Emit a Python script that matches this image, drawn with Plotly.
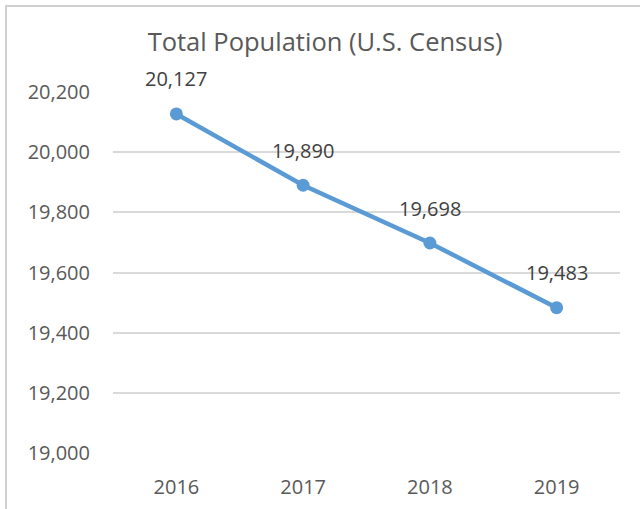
import plotly.graph_objects as go

years = ["2016", "2017", "2018", "2019"]
population = [20127, 19890, 19698, 19483]
y_ticks = [19000, 19200, 19400, 19600, 19800, 20000, 20200]
y_tick_labels = ["19,000", "19,200", "19,400", "19,600", "19,800", "20,000", "20,200"]

FONT = "Open Sans, Noto Sans, sans-serif"
LINE_COLOR = "#5B9BD5"
TEXT_COLOR = "#595959"
BORDER = "#D0D0D0"

fig = go.Figure()
fig.add_trace(go.Scatter(
    x=years, y=population, mode="lines+markers",
    line=dict(color=LINE_COLOR, width=4.5),
    marker=dict(color=LINE_COLOR, size=13),
    hoverinfo="skip", showlegend=False,
))

for i, v in enumerate(population):
    fig.add_annotation(
        x=i, y=v, text=f"{v:,}", showarrow=False,
        yshift=35, font=dict(family=FONT, size=20, color="#404040"),
    )

fig.update_layout(
    width=640, height=509,
    margin=dict(l=113, r=20, t=92, b=56, autoexpand=False),
    paper_bgcolor="white", plot_bgcolor="white",
    title=dict(text="Total Population (U.S. Census)", x=0.508, xanchor="center",
               y=1 - 42 / 509, yanchor="middle",
               font=dict(family=FONT, size=25.5, color=TEXT_COLOR)),
    xaxis=dict(type="category", range=[-0.5, 3.5], showgrid=False, zeroline=False,
               showline=False, ticks="", automargin=False,
               tickfont=dict(family=FONT, size=20, color=TEXT_COLOR),
               ticklabelstandoff=20),
    yaxis=dict(range=[19000, 20200], tickvals=y_ticks, ticktext=y_tick_labels,
               showgrid=True, gridcolor="#D9D9D9", gridwidth=1.5, zeroline=False,
               showline=False, ticks="", ticklabelstandoff=22, automargin=False,
               tickfont=dict(family=FONT, size=20, color=TEXT_COLOR)),
    shapes=[
        dict(type="rect", xref="paper", yref="paper",
             xsizemode="pixel", ysizemode="pixel", xanchor=0, yanchor=1,
             x0=6 - 113, x1=640 - 113 + 20, y0=92 - 509 - 20, y1=92 - 6,
             line=dict(color=BORDER, width=2), fillcolor="rgba(0,0,0,0)",
             layer="above"),
    ],
)

fig.write_html("out.html", config={"displayModeBar": False},
               post_script="document.body.style.margin='0';")
